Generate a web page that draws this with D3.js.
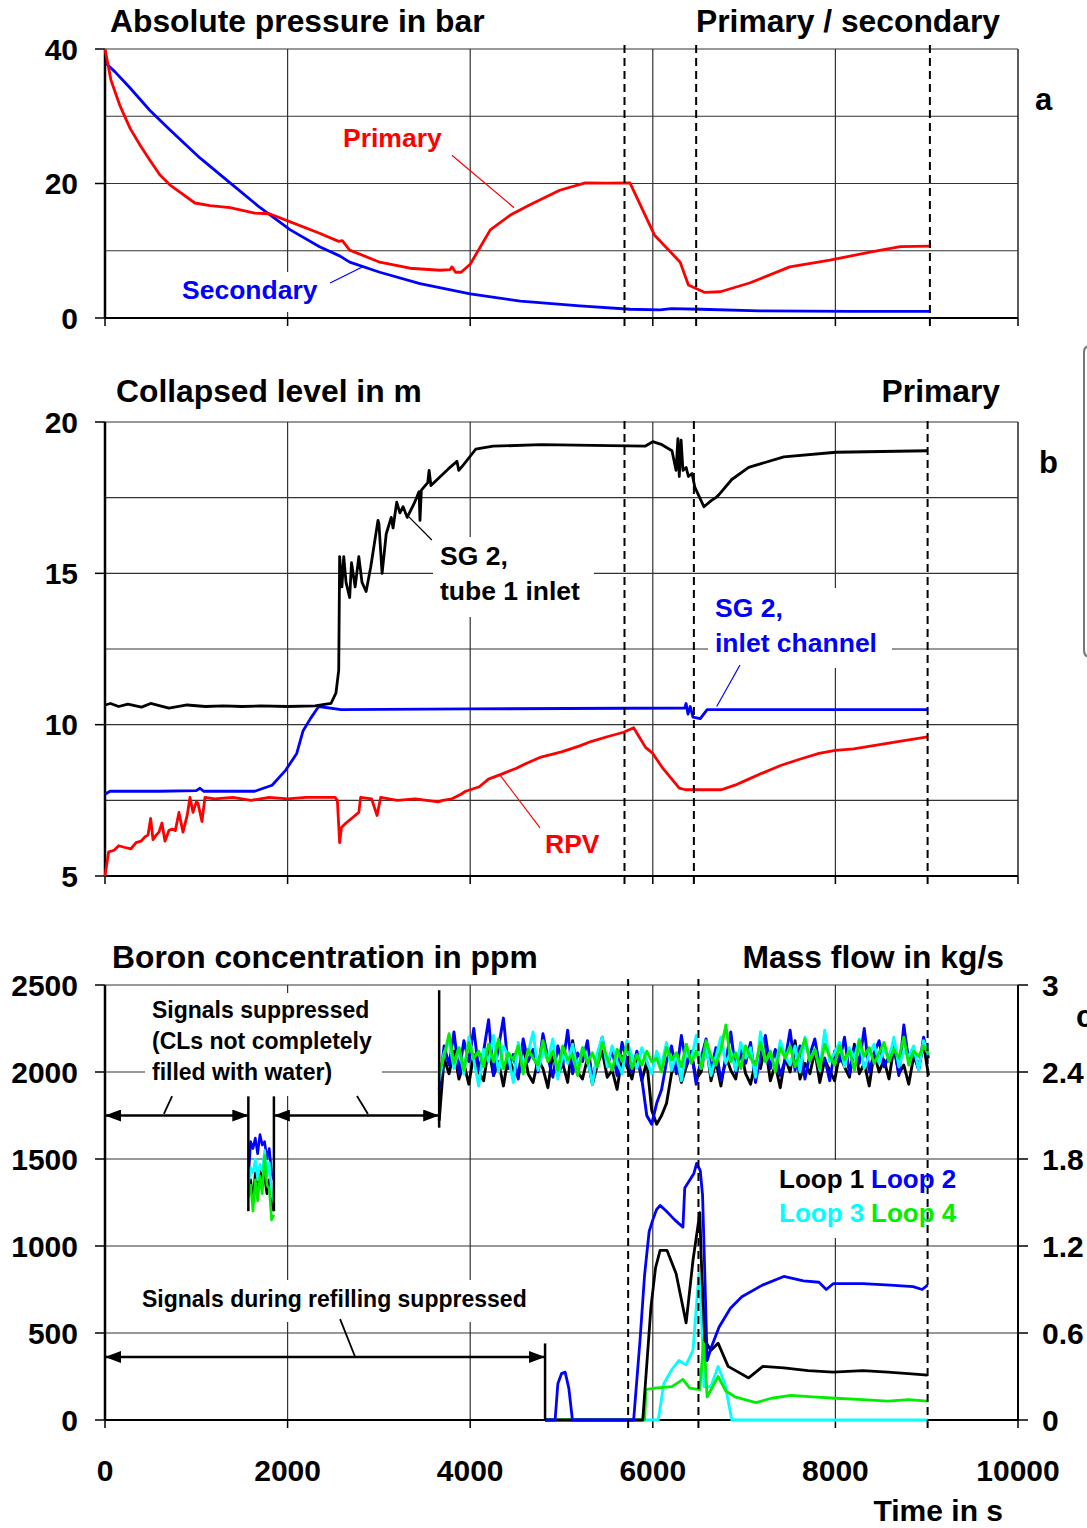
<!DOCTYPE html>
<html>
<head>
<meta charset="utf-8">
<script src="https://cdn.jsdelivr.net/npm/d3@7"></script>
<style>
  body { margin: 0; background: #fff; }
  text { font-family: "Liberation Sans", Arial, sans-serif; font-weight: bold; }
</style>
</head>
<body>
<svg id="chart" width="1087" height="1528"></svg>
<script>
// ---------- data ----------
// panel a: absolute pressure, [time s, bar]
var primaryPressure = [[0,40],[65,35.4],[160,31.7],[275,28.2],[385,25.7],[490,23.5],[600,21.3],[710,19.8],[820,18.7],
  [985,17.1],[1150,16.7],[1370,16.4],[1640,15.6],[1800,15.5],[2030,14.3],[2350,12.6],[2560,11.4],[2600,11.5],[2680,10.1],
  [3010,8.3],[3340,7.4],[3670,7.1],[3780,7.2],[3800,7.6],[3840,6.8],[3900,6.8],[4000,8.0],[4220,13.1],[4440,15.3],
  [4650,16.8],[4980,19.0],[5260,20.1],[5500,20.05],[5750,20.1],[6020,12.3],[6300,8.3],[6390,4.9],[6570,3.8],[6740,3.9],
  [7060,5.2],[7500,7.6],[7940,8.6],[8380,9.8],[8710,10.6],[9040,10.7]];
var secondaryPressure = [[0,38],[110,36.6],[275,34.2],[490,30.9],[710,28],[1040,23.8],[1370,20.1],[1700,16.4],[2030,13.1],
  [2350,10.6],[2575,9.2],[2680,8.3],[3010,6.8],[3450,5.1],[4000,3.6],[4550,2.5],[5200,1.8],[5750,1.3],[6080,1.2],
  [6200,1.4],[6520,1.3],[7170,1.05],[8160,1.0],[9040,1.0]];

// panel b: collapsed level, [time s, m]
var sgTubeLevel = [[0,10.65],[60,10.7],[150,10.6],[250,10.68],[400,10.58],[500,10.7],[700,10.55],[900,10.65],[1100,10.6],
  [1300,10.62],[1500,10.6],[1700,10.62],[2000,10.6],[2300,10.62],[2475,10.7],[2530,11.05],[2560,11.8],[2570,15.55],
  [2595,14.55],[2615,15.55],[2640,14.7],[2680,14.2],[2700,15.35],[2740,14.55],[2780,15.55],[2815,14.7],[2860,14.4],
  [2910,15.2],[2990,16.75],[3000,16.65],[3035,15.0],[3080,16.3],[3135,16.85],[3155,16.5],[3195,17.35],[3230,17.0],
  [3265,17.2],[3310,16.85],[3385,17.3],[3440,17.7],[3450,16.75],[3465,17.75],[3535,18.0],[3550,18.4],[3570,17.9],
  [3760,18.45],[3855,18.7],[3875,18.4],[3930,18.6],[4060,19.1],[4250,19.2],[4775,19.25],[5915,19.2],[6000,19.35],
  [6100,19.25],[6210,19.05],[6255,18.4],[6275,19.45],[6290,18.2],[6310,19.4],[6330,18.4],[6365,18.5],[6390,18.2],
  [6430,18.3],[6460,17.85],[6560,17.2],[6640,17.4],[6690,17.5],[6725,17.6],[6865,18.1],[7050,18.5],[7435,18.85],
  [8005,19.0],[9010,19.05]];
var sgInletLevel = [[0,7.7],[55,7.8],[600,7.8],[1000,7.82],[1040,7.9],[1080,7.8],[1640,7.8],[1830,8.0],[1980,8.5],
  [2100,9.05],[2170,9.8],[2250,10.2],[2340,10.6],[2585,10.5],[4000,10.52],[6350,10.55],[6365,10.7],[6385,10.35],
  [6410,10.6],[6440,10.25],[6520,10.2],[6595,10.5],[9010,10.5]];
var rpvLevel = [[0,5.0],[40,5.8],[100,5.85],[150,6.0],[210,5.95],[285,5.9],[340,6.1],[394,6.15],[440,6.3],[471,6.35],
  [500,6.9],[526,6.2],[560,6.35],[591,6.45],[624,6.75],[657,6.15],[700,6.5],[734,6.55],[770,6.5],[810,7.1],[854,6.45],
  [900,7.0],[931,7.6],[964,7.1],[1000,7.45],[1019,7.4],[1062,6.8],[1095,7.6],[1200,7.55],[1400,7.6],[1600,7.5],
  [1800,7.6],[2000,7.55],[2200,7.6],[2400,7.6],[2520,7.6],[2545,7.5],[2570,6.1],[2590,6.6],[2640,6.75],[2700,6.9],
  [2780,7.1],[2800,7.6],[2920,7.55],[2980,7.0],[3020,7.6],[3200,7.5],[3400,7.55],[3650,7.45],[3700,7.5],[3800,7.55],
  [3900,7.7],[3950,7.8],[4100,7.95],[4200,8.2],[4330,8.35],[4500,8.55],[4600,8.7],[4775,8.93],[5000,9.1],[5200,9.3],
  [5330,9.45],[5500,9.6],[5680,9.75],[5790,9.9],[5850,9.6],[5920,9.25],[6000,9.05],[6100,8.6],[6290,7.9],[6360,7.85],
  [6750,7.85],[6900,8.0],[7050,8.2],[7200,8.4],[7400,8.65],[7600,8.85],[7820,9.05],[8000,9.15],[8200,9.2],[8400,9.3],
  [8700,9.45],[9010,9.6]];

// panel c: boron concentration in ppm, sampled evenly between the given times
var boronEarly = [1570, 1850];
var boronLate = [3660, 9020];
var boronLoop1a = [1300,1380,1250,1420,1330,1450,1360,1400,1300,1380,1250,1200];
var boronLoop2a = [1380,1600,1560,1620,1530,1640,1580,1600,1500,1560,1420,1380];
var boronLoop3a = [1350,1450,1420,1500,1380,1470,1430,1550,1400,1480,1300,1250];
var boronLoop4a = [1280,1350,1200,1380,1260,1400,1300,1520,1350,1330,1150,1180];
var boronLoop1 = [1720,2080,1990,2120,1960,2050,1930,2100,2000,1950, 2140,1980,2060,1920,2090,2010,1970,2160,1990,1940,
  2070,2020,1910,2110,1980,2050,1940,2180,2000,1960, 2080,1930,2040,2120,1970,2010,1900,2090,2030,1960,
  2100,1950,2060,1780,1700,1750,1820,1990,2070,1940, 2030,2110,1960,2000,2170,1950,2060,1920,2090,2010,
  1960,2130,1990,1930,2060,2020,2150,1950,2040,1910, 2080,2000,2180,1960,2050,1990,2120,1940,2070,2010,
  1950,2100,2030,1970,2160,1990,2050,1920,2110,2000, 2070,1960,2140,1990,2040,1930,2090,2020,2160,1980];
var boronLoop2 = [1900,2150,2040,2230,1990,2180,2060,2250,2010,2120, 2300,1980,2140,2310,2020,2100,1960,2190,2060,2130,
  2000,2220,2080,1970,2150,2040,2240,1990,2110,2060, 2180,1950,2090,2200,2030,2130,1980,2170,2060,2000,
  2120,1960,1750,1700,1820,1900,2060,2150,1990,2210, 2040,2120,1930,2080,2190,2010,2140,1950,2060,2230,
  2000,2110,2050,2170,1940,2090,2210,2020,2130,1980, 2070,2240,2010,2150,1960,2100,2190,2030,2080,1950,
  2120,2060,2200,1990,2140,2050,2250,2000,2110,2180, 2030,2090,2160,1980,2270,2060,2120,2010,2200,2080];
var boronLoop3 = [1950,2110,2180,2020,2140,1990,2200,2070,1920,2130, 2060,2210,2000,2150,2090,1940,2170,2040,2110,2230,
  2010,2120,2070,2190,1960,2100,2050,2160,2000,2140, 2080,1930,2110,2200,2030,2150,2060,1990,2180,2090,
  2020,2140,2060,1990,2120,2040,2170,2010,2100,1950, 2130,2070,2210,2020,2150,1980,2090,2200,2050,2120,
  2010,2170,2080,2140,1970,2230,2060,2110,2020,2180, 2090,2040,2150,2000,2200,2070,2130,2010,2240,2060,
  2110,2170,2030,2140,2080,2190,2020,2100,2160,2050, 2130,2070,2200,2030,2120,2090,2150,2010,2180,2100];
var boronLoop4 = [2000,2090,2220,2050,2140,2010,2170,2080,2120,2030, 2160,2060,2190,2020,2110,2070,2150,1990,2130,2080,
  2040,2180,2060,2120,2010,2150,2070,2100,1980,2140, 2050,2110,2030,2170,2080,2010,2130,2060,2150,2020,
  2100,2040,2120,2060,2080,2000,2140,2070,2110,2030, 2160,2050,2120,2020,2180,2090,2040,2130,2270,2060,
  2110,2020,2150,2080,2040,2170,2060,2120,2000,2140, 2080,2150,2030,2110,2190,2060,2130,2020,2160,2090,
  2040,2150,2070,2120,2010,2180,2090,2140,2050,2110, 2170,2060,2130,2080,2200,2040,2120,2090,2150,2100];

// panel c: mass flow in kg/s, [time s, kg/s]
var flowLoop1 = [[4820,0],[5890,0],[5980,0.78],[6030,1.05],[6080,1.17],[6155,1.17],[6255,1.01],[6365,0.67],[6440,1.1],
  [6515,1.43],[6530,1.12],[6570,0.55],[6635,0.48],[6715,0.53],[6825,0.37],[7050,0.29],[7205,0.37],[7435,0.36],
  [7700,0.34],[7975,0.33],[8300,0.34],[8575,0.33],[8800,0.32],[9010,0.31]];
var flowLoop2 = [[4820,0],[4930,0],[4960,0.25],[5000,0.32],[5040,0.33],[5080,0.22],[5120,0],[5790,0],[5860,0.55],
  [5910,1.0],[5960,1.3],[6000,1.38],[6040,1.45],[6080,1.48],[6150,1.44],[6240,1.38],[6330,1.33],[6350,1.6],[6400,1.65],
  [6450,1.7],[6480,1.77],[6520,1.72],[6545,1.55],[6570,1.0],[6595,0.41],[6640,0.5],[6725,0.64],[6850,0.77],[6975,0.85],
  [7200,0.93],[7435,0.99],[7650,0.96],[7820,0.95],[7900,0.9],[7975,0.94],[8300,0.94],[8600,0.93],[8850,0.92],
  [8950,0.9],[9010,0.93]];
var flowLoop3 = [[4820,0],[6060,0],[6120,0.25],[6210,0.35],[6285,0.41],[6365,0.38],[6440,0.48],[6505,1.01],[6530,0.78],
  [6560,0.23],[6635,0.23],[6715,0.37],[6790,0.25],[6865,0],[9010,0]];
var flowLoop4 = [[4820,0],[5910,0],[5925,0.21],[6020,0.22],[6210,0.23],[6330,0.28],[6405,0.22],[6515,0.21],[6560,0.57],
  [6595,0.16],[6715,0.3],[6800,0.2],[6900,0.16],[7130,0.12],[7300,0.15],[7515,0.17],[7750,0.16],[8005,0.15],[8300,0.14],
  [8575,0.13],[8800,0.14],[9010,0.13]];

var xTicks = [0, 2000, 4000, 6000, 8000, 10000];
var pressureTicks = [0, 20, 40];
var levelTicks = [5, 10, 15, 20];
var boronTicks = [0, 500, 1000, 1500, 2000, 2500];
var flowTicks = [0, 0.6, 1.2, 1.8, 2.4, 3];

// ---------- layout ----------
var svg = d3.select("#chart");
var x = d3.scaleLinear().domain([0, 10000]).range([105, 1018]);
var yA = d3.scaleLinear().domain([0, 40]).range([318, 49]);
var yB = d3.scaleLinear().domain([5, 20]).range([876, 422]);
var yC = d3.scaleLinear().domain([0, 2500]).range([1420, 985]);
var yM = d3.scaleLinear().domain([0, 3]).range([1420, 985]);

var RED = "#ff0000", BLUE = "#0000ff", CYAN = "#00ffff", GREEN = "#00ee00";

function spread(span, vals) {
  return vals.map(function(v, i) { return [span[0] + (span[1] - span[0]) * i / (vals.length - 1), v]; });
}

function frame(y, gridStep, ticks, boxes) {
  var d0 = y.domain()[0], d1 = y.domain()[1];
  var g = svg.append("g");
  // grid
  for (var v = d0 + gridStep; v <= d1 + 1e-9; v += gridStep) {
    g.append("line").attr("x1", x(0)).attr("x2", x(10000)).attr("y1", y(v)).attr("y2", y(v))
      .attr("stroke", "#333").attr("stroke-width", 1.2);
  }
  [2000, 4000, 6000, 8000, 10000].forEach(function(t) {
    g.append("line").attr("x1", x(t)).attr("x2", x(t)).attr("y1", y(d0)).attr("y2", y(d1))
      .attr("stroke", "#333").attr("stroke-width", t == 10000 ? 1.6 : 1.2);
  });
  // white boxes behind labels
  boxes.forEach(function(b) {
    g.append("rect").attr("x", b[0]).attr("y", b[1]).attr("width", b[2] - b[0]).attr("height", b[3] - b[1]).attr("fill", "#fff");
  });
  // axes
  g.append("line").attr("x1", x(0)).attr("x2", x(10000)).attr("y1", y(d0)).attr("y2", y(d0))
    .attr("stroke", "#000").attr("stroke-width", 2);
  g.append("line").attr("x1", x(0)).attr("x2", x(0)).attr("y1", y(d0)).attr("y2", y(d1))
    .attr("stroke", "#000").attr("stroke-width", 2.5);
  ticks.forEach(function(t) {
    g.append("line").attr("x1", x(0) - 10).attr("x2", x(0)).attr("y1", y(t)).attr("y2", y(t))
      .attr("stroke", "#000").attr("stroke-width", 1.5);
    g.append("text").attr("x", 78).attr("y", y(t)).attr("dy", "0.36em").attr("text-anchor", "end")
      .attr("font-size", 30).text(t);
  });
  xTicks.forEach(function(t) {
    g.append("line").attr("x1", x(t)).attr("x2", x(t)).attr("y1", y(d0)).attr("y2", y(d0) + 8)
      .attr("stroke", "#000").attr("stroke-width", 1.5);
  });
}

function curve(y, data, color, w) {
  svg.append("path").datum(data)
    .attr("d", d3.line().x(function(d) { return x(d[0]); }).y(function(d) { return y(d[1]); }))
    .attr("fill", "none").attr("stroke", color).attr("stroke-width", w || 2.8).attr("stroke-linejoin", "round");
}

function dashes(y, times) {
  times.forEach(function(t) {
    svg.append("line").attr("x1", x(t)).attr("x2", x(t)).attr("y1", y(y.domain()[0]) + 8).attr("y2", y(y.domain()[1]) - 6)
      .attr("stroke", "#000").attr("stroke-width", 2).attr("stroke-dasharray", "8,5");
  });
}

function label(txt, px, py, size, color, anchor) {
  svg.append("text").attr("x", px).attr("y", py).attr("font-size", size).attr("fill", color || "#000")
    .attr("text-anchor", anchor || "start").text(txt);
}

function leader(y, a, b, color, w) {
  svg.append("line").attr("x1", x(a[0])).attr("y1", y(a[1])).attr("x2", x(b[0])).attr("y2", y(b[1]))
    .attr("stroke", color).attr("stroke-width", w || 1.2);
}

// ---------- panel a ----------
frame(yA, 10, pressureTicks, [[175, 272, 325, 312]]);
curve(yA, secondaryPressure, BLUE);
curve(yA, primaryPressure, RED);
dashes(yA, [5690, 6475, 9035]);
leader(yA, [3800, 24.2], [4480, 16.4], RED);
leader(yA, [2465, 5.2], [2835, 7.7], BLUE);
label("Absolute pressure in bar", 110, 32, 31.8);
label("Primary / secondary", 1000, 32, 31.8, "#000", "end");
label("a", 1035, 110, 31);
label("Primary", 343, 147, 26.5, RED);
label("Secondary", 182, 299, 26.5, BLUE);

// ---------- panel b ----------
frame(yB, 2.5, levelTicks, [[433, 537, 594, 617], [708, 588, 892, 668]]);
curve(yB, rpvLevel, RED);
curve(yB, sgInletLevel, BLUE);
curve(yB, sgTubeLevel, "#000");
dashes(yB, [5690, 6450, 9010]);
leader(yB, [3580, 16.1], [3285, 17.0], "#000");
leader(yB, [6955, 11.97], [6700, 10.6], BLUE);
leader(yB, [4765, 6.59], [4325, 8.34], RED);
label("Collapsed level in m", 116, 402, 31.8);
label("Primary", 1000, 402, 31.8, "#000", "end");
label("b", 1039, 473, 31);
label("SG 2,", 440, 565, 26.5);
label("tube 1 inlet", 440, 600, 26.5);
label("SG 2,", 715, 617, 26.5, BLUE);
label("inlet channel", 715, 652, 26.5, BLUE);
label("RPV", 545, 853, 26.5, RED);
// stray bracket of a neighbouring element at the right edge
svg.append("path").attr("d", "M1090,346 Q1084,346 1084,352 L1084,650 Q1084,657 1090,657")
  .attr("fill", "none").attr("stroke", "#777").attr("stroke-width", 2);

// ---------- panel c ----------
frame(yC, 500, boronTicks, [[145, 993, 382, 1096], [138, 1280, 532, 1322], [770, 1160, 965, 1238]]);
// right axis
svg.append("line").attr("x1", x(10000)).attr("x2", x(10000)).attr("y1", yM(0)).attr("y2", yM(3))
  .attr("stroke", "#000").attr("stroke-width", 2);
flowTicks.forEach(function(t) {
  svg.append("line").attr("x1", x(10000)).attr("x2", x(10000) + 10).attr("y1", yM(t)).attr("y2", yM(t))
    .attr("stroke", "#000").attr("stroke-width", 1.5);
  svg.append("text").attr("x", 1042).attr("y", yM(t)).attr("dy", "0.36em").attr("font-size", 30).text(t);
});
xTicks.forEach(function(t) {
  svg.append("text").attr("x", x(t)).attr("y", 1481).attr("text-anchor", "middle").attr("font-size", 30).text(t);
});

var loopColors = ["#000", BLUE, CYAN, GREEN];
[boronLoop1a, boronLoop2a, boronLoop3a, boronLoop4a].forEach(function(s, i) { curve(yC, spread(boronEarly, s), loopColors[i], 2.6); });
[boronLoop1, boronLoop2, boronLoop3, boronLoop4].forEach(function(s, i) { curve(yC, spread(boronLate, s), loopColors[i], 2.9); });
[flowLoop3, flowLoop4, flowLoop1, flowLoop2].forEach(function(s, i) { curve(yM, s, [CYAN, GREEN, "#000", BLUE][i], 2.8); });
dashes(yC, [5730, 6500, 9010]);

// suppressed-signal arrows
svg.append("defs").selectAll("marker").data(["l", "r"]).enter().append("marker")
  .attr("id", function(d) { return "arr" + d; })
  .attr("viewBox", "0 0 16 12").attr("refX", function(d) { return d == "l" ? 0 : 16; }).attr("refY", 6)
  .attr("markerWidth", 16).attr("markerHeight", 12).attr("markerUnits", "userSpaceOnUse").attr("orient", "0")
  .append("path").attr("d", function(d) { return d == "l" ? "M0,6 L16,0 L16,12 Z" : "M16,6 L0,0 L0,12 Z"; });

function arrow(t0, t1, v) {
  svg.append("line").attr("x1", x(t0)).attr("x2", x(t1)).attr("y1", yC(v)).attr("y2", yC(v))
    .attr("stroke", "#000").attr("stroke-width", 2.5)
    .attr("marker-start", "url(#arrl)").attr("marker-end", "url(#arrr)");
}
function bar(t, v0, v1) {
  svg.append("line").attr("x1", x(t)).attr("x2", x(t)).attr("y1", yC(v0)).attr("y2", yC(v1))
    .attr("stroke", "#000").attr("stroke-width", 2.5);
}
arrow(0, 1570, 1750);
arrow(1850, 3660, 1750);
arrow(0, 4820, 362);
bar(1570, 1200, 1860);
bar(1850, 1200, 1860);
bar(3660, 1680, 2470);
bar(4820, 0, 440);
leader(yC, [735, 1862], [645, 1759], "#000", 1.8);
leader(yC, [2760, 1862], [2880, 1759], "#000", 1.8);
leader(yC, [2575, 580], [2740, 362], "#000", 1.8);

label("Boron concentration in ppm", 112, 968, 31.8);
label("Mass flow in kg/s", 1004, 968, 31.8, "#000", "end");
label("c", 1076, 1027, 31);
label("Signals suppressed", 152, 1018, 23);
label("(CLs not completely", 152, 1049, 23);
label("filled with water)", 152, 1080, 23);
label("Signals during refilling suppressed", 142, 1307, 23);
label("Loop 1", 779, 1188, 26);
label("Loop 2", 871, 1188, 26, BLUE);
label("Loop 3", 779, 1222, 26, CYAN);
label("Loop 4", 871, 1222, 26, GREEN);
label("Time in s", 1003, 1521, 30, "#000", "end");
</script>
</body>
</html>
